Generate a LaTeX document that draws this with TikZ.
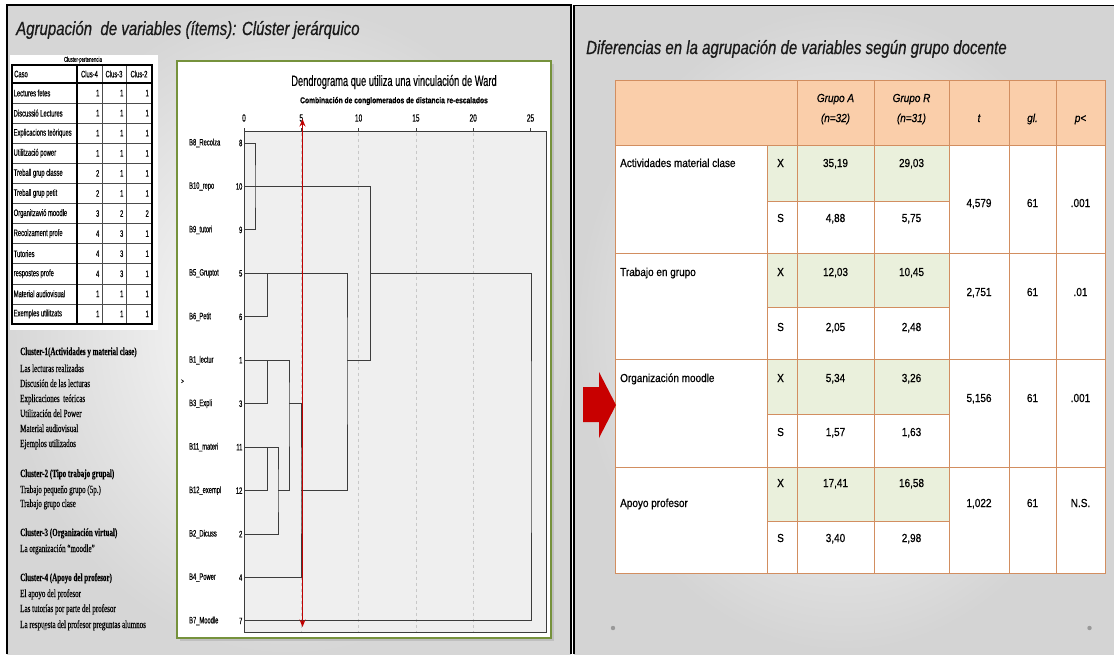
\documentclass[tikz,border=0pt]{standalone}
\usepackage{fontspec}
\usepackage{xcolor}
\usepackage{tikz}
\usetikzlibrary{arrows.meta}
\setmainfont{Liberation Serif}
\newfontfamily\titlefont[FakeStretch=0.79, FakeBold=0.6]{Liberation Sans}
\newfontfamily\tablefont[FakeStretch=0.86, FakeBold=0.7]{Liberation Sans}
\newfontfamily\spssfont[FakeStretch=0.62, FakeBold=0.3]{Liberation Sans}
\newfontfamily\listfont[FakeStretch=0.64, FakeBold=0.3]{Liberation Serif}
\definecolor{hdrfill}{RGB}{250,206,170}
\definecolor{xfill}{RGB}{234,240,220}
\definecolor{tabline}{RGB}{210,142,96}
\definecolor{cutred}{RGB}{192,0,0}
\definecolor{blockred}{RGB}{200,0,0}
\definecolor{boxgreen}{RGB}{118,146,60}
\definecolor{plotgray}{RGB}{239,239,239}
\definecolor{gridgray}{RGB}{200,200,200}
\definecolor{dendline}{RGB}{60,60,60}

\begin{document}
\begin{tikzpicture}[x=1pt,y=-1pt,
    bigtitle/.style={inner sep=0pt, anchor=base west, text=black!90, font=\titlefont\itshape\fontsize{19}{22}\selectfont},
    listtxt/.style={inner sep=0pt, anchor=base west, font=\listfont\fontsize{11}{13}\selectfont},
    listhead/.style={listtxt, font=\listfont\bfseries\fontsize{11}{13}\selectfont},
    celltxt/.style={inner sep=0pt, font=\spssfont\fontsize{9.4}{11}\selectfont},
    leaftxt/.style={inner sep=0pt, font=\spssfont\fontsize{9.3}{11}\selectfont},
    tabtxt/.style={inner sep=0pt, anchor=base, font=\tablefont\fontsize{11.6}{13}\selectfont},
    tabhead/.style={tabtxt, font=\tablefont\itshape\fontsize{11.6}{13}\selectfont},
    dend/.style={draw=dendline, line width=1pt},
    grid/.style={draw=gridgray, dashed, line width=0.5pt},
    tabrule/.style={draw=tabline, line width=0.8pt}]
\useasboundingbox (0,0) rectangle (1114,654);
\fill[white] (0,0) rectangle (1114,654);

% the two slides
\shade[inner color=white, outer color=black!16] (7,5) rectangle (571,654);
\shade[inner color=white, outer color=black!17] (574,5) rectangle (1114,654);
\draw[line width=1.8pt] (7,654) -- (7,5) -- (571,5) -- (571,654);
\draw[line width=1.5pt] (574,654) -- (574,5.5) -- (1114,5.5);

\node[bigtitle] (ltitle) at (16,35) {Agrupación\ \ de variables (ítems): Clúster jerárquico};
\node[bigtitle] (rtitle) at (586,54) {Diferencias en la agrupación de variables según grupo docente};

% cluster membership table
\fill[white] (10,55) rectangle (158,330);
\node[celltxt, font=\spssfont\fontsize{7}{8}\selectfont] (cptitle) at (83,60) {Cluster-pertenencia};
\draw[line width=0.5pt, black!70] (102,65) -- (102,324) (126,65) -- (126,324);
\foreach \i in {1,...,11}
  \draw[line width=0.5pt, black!70] (12,83+20.08*\i) -- (152,83+20.08*\i);
\draw[line width=1.6pt] (12,65) rectangle (152,324);
\draw[line width=1.6pt] (77,65) -- (77,324);
\draw[line width=1.6pt] (12,83) -- (152,83);
\node[celltxt, anchor=west] (caso) at (14,74) {Caso};
\node[celltxt] (clus4) at (89.5,74) {Clus-4};
\node[celltxt] (clus3) at (114,74) {Clus-3};
\node[celltxt] (clus2) at (139,74) {Clus-2};
\foreach \name/\a/\b/\c [count=\i] in {Lectures fetes/1/1/1, Discussió Lectures/1/1/1,
    Explicacions teòriques/1/1/1, Utilització power/1/1/1, Treball grup classe/2/1/1,
    Treball grup petit/2/1/1, Organitzavió moodle/3/2/2, Recolzament profe/4/3/1,
    Tutories/4/3/1, respostes profe/4/3/1, Material audiovisual/1/1/1, Exemples utilitzats/1/1/1} {
  \node[celltxt, anchor=west] (case\i) at (13.5,72.96+20.08*\i) {\name};
  \node[celltxt, anchor=east] (ca\i) at (99.5,72.96+20.08*\i) {\a};
  \node[celltxt, anchor=east] (cb\i) at (123.5,72.96+20.08*\i) {\b};
  \node[celltxt, anchor=east] (cc\i) at (149,72.96+20.08*\i) {\c};
}

% cluster descriptions
\node[listhead] (h1) at (20,355) {Cluster-1(Actividades y material clase)};
\node[listtxt] (t11) at (20,372) {Las lecturas realizadas};
\node[listtxt] (t12) at (20,387) {Discusión de las lecturas};
\node[listtxt] (t13) at (20,402) {Explicaciones\ \ teóricas};
\node[listtxt] (t14) at (20,417) {Utilización del Power};
\node[listtxt] (t15) at (20,432) {Material audiovisual};
\node[listtxt] (t16) at (20,447) {Ejemplos utilizados};
\node[listhead] (h2) at (20,477) {Cluster-2 (Tipo trabajo grupal)};
\node[listtxt] (t21) at (20,493) {Trabajo pequeño grupo (5p.)};
\node[listtxt] (t22) at (20,507) {Trabajo grupo clase};
\node[listhead] (h3) at (20,536) {Cluster-3 (Organización virtual)};
\node[listtxt] (t31) at (20,552) {La organización “moodle”};
\node[listhead] (h4) at (20,581) {Cluster-4 (Apoyo del profesor)};
\node[listtxt] (t41) at (20,597) {El apoyo del profesor};
\node[listtxt] (t42) at (20,612) {Las tutorías por parte del profesor};
\node[listtxt] (t43) at (20,628) {La respuesta del profesor preguntas alumnos};
\fill[black!45] (45,628) circle (2.2);

% dendrogram
\fill[black!25] (179.5,63.5) rectangle (553.5,640.5);
\filldraw[fill=white, draw=boxgreen, line width=1.2pt] (177,61) rectangle (551,638);
\filldraw[fill=plotgray, draw=dendline, line width=0.8pt] (244,131.5) rectangle (546,632);
\node[inner sep=0pt, font=\spssfont\fontsize{15}{17}\selectfont] (dtitle) at (394,82) {Dendrograma que utiliza una vinculación de Ward};
\node[inner sep=0pt, font=\titlefont\bfseries\fontsize{8.5}{10}\selectfont] (dsub) at (394,101) {Combinación de conglomerados de distancia re-escalados};
\foreach \t in {0,5,...,25} {
  \draw[dendline, line width=0.6pt] (244+11.46*\t,131.5) -- (244+11.46*\t,127.5);
  \node[leaftxt, font=\spssfont\fontsize{10.5}{12}\selectfont] (ax\t) at (244+11.46*\t,118) {\t};
}
\foreach \t in {5,10,15,20}
  \draw[grid] (244+11.46*\t,132.5) -- (244+11.46*\t,631);
\foreach \n/\lab [count=\i from 0] in {8/B8\_Recolza, 10/B10\_repo, 9/B9\_tutori, 5/B5\_Gruptot,
    6/B6\_Petit, 1/B1\_lectur, 3/B3\_Expli, 11/B11\_materi, 12/B12\_exempl, 2/B2\_Dicuss,
    4/B4\_Power, 7/B7\_Moodle} {
  \node[leaftxt, anchor=west] (lab\n) at (189,143+43.45*\i) {\lab};
  \node[leaftxt, anchor=east] (no\n) at (242.5,143+43.45*\i) {\n};
  \coordinate (l\n) at (244,143+43.45*\i);
}
\node[leaftxt, font=\spssfont\fontsize{7}{8}\selectfont] (mark) at (182.5,381.5) {>};
\path (l10) ++(11,0) coordinate (cA);
\path (l5) ++(23,0) coordinate (cB);
\path (l1) ++(23,0) coordinate (cC);
\path (l11) ++(23,0) coordinate (cCC);
\path (l12) ++(34,0) coordinate (cD);
\path (l3) ++(45,0) coordinate (cE);
\path (l12) ++(57,0) coordinate (cF);
\path (l1) ++(103,0) coordinate (cG);
\path (l5) ++(126,0) coordinate (cH);
\path (l11) ++(287,0) coordinate (cZ);
\draw[dend] (l8) -| (cA) |- (l9);
\draw[dend] (l10) -- (cA) -| (cH);
\draw[dend] (l5) -- (cB) |- (l6);
\draw[dend] (l1) -- (cC) |- (l3);
\draw[dend] (l11) -- (cCC) |- (l12);
\draw[dend] (cCC) -| (cD) |- (l2);
\draw[dend] (cC) -| (cE) |- (cD);
\draw[dend] (cE) -| (cF) |- (l4);
\draw[dend] (cB) -| (cG) |- (cF);
\draw[dend] (cH) |- (cG);
\draw[dend] (cH) -| (cZ) |- (l7);
\coordinate (cuttop) at (302.5,119);
\coordinate (cutbot) at (302.5,627);
\draw[cutred, line width=1.5pt, {Stealth[length=7.5pt,width=6pt]}-{Stealth[length=7.5pt,width=6pt]}] (cuttop) -- (cutbot);

% table of group differences
\fill[hdrfill] (615,80) rectangle (1105,145);
\fill[white] (615,145) rectangle (1105,573);
\foreach \top/\mid in {145/201, 253/307, 359/414, 467/521}
  \fill[xfill] (767,\top) rectangle (949,\mid);
\draw[tabrule] (615,80) rectangle (1105,573);
\foreach \x in {797,874,949,1009,1056}
  \draw[tabrule] (\x,80) -- (\x,573);
\draw[tabrule] (767,145) -- (767,573);
\foreach \y in {145,253,359,467}
  \draw[tabrule] (615,\y) -- (1105,\y);
\foreach \y in {201,307,414,521}
  \draw[tabrule] (767,\y) -- (949,\y);
\node[tabhead] (gra) at (835.5,102) {Grupo A};
\node[tabhead] (na) at (835.5,122) {(n=32)};
\node[tabhead] (grr) at (911.5,102) {Grupo R};
\node[tabhead] (nr) at (911.5,122) {(n=31)};
\node[tabhead] (tt) at (979,122) {t};
\node[tabhead] (gl) at (1032.5,122) {gl.};
\node[tabhead] (pp) at (1080.5,122) {p<};
\foreach \lab/\ly/\xy/\sy/\ty/\xa/\xr/\sa/\sr/\tv/\pv [count=\i] in {
    Actividades material clase/167/167/222/207/35{,}19/29{,}03/4{,}88/5{,}75/4{,}579/.001,
    Trabajo en grupo/276/276/331/296/12{,}03/10{,}45/2{,}05/2{,}48/2{,}751/.01,
    Organización moodle/382/382/436/402/5{,}34/3{,}26/1{,}57/1{,}63/5{,}156/.001,
    Apoyo profesor/507/487/542/507/17{,}41/16{,}58/3{,}40/2{,}98/1{,}022/N.S.} {
  \node[tabtxt, anchor=base west] (grp\i) at (620,\ly) {\lab};
  \node[tabtxt, anchor=base west] (mx\i) at (777,\xy) {X};
  \node[tabtxt, anchor=base west] (ms\i) at (777,\sy) {S};
  \node[tabtxt] (xa\i) at (835.5,\xy) {\xa};
  \node[tabtxt] (xr\i) at (911.5,\xy) {\xr};
  \node[tabtxt] (sa\i) at (835.5,\sy) {\sa};
  \node[tabtxt] (sr\i) at (911.5,\sy) {\sr};
  \node[tabtxt] (tv\i) at (979,\ty) {\tv};
  \node[tabtxt] (gv\i) at (1032.5,\ty) {61};
  \node[tabtxt] (pv\i) at (1080.5,\ty) {\pv};
}
\fill[blockred] (583,387) -- (599,387) -- (599,372) -- (616,405) -- (599,438) -- (599,422) -- (583,422) -- cycle;
\fill[black!40] (613,628) circle (2.2);
\fill[black!40] (1089.5,628) circle (2.2);
\end{tikzpicture}
\end{document}
